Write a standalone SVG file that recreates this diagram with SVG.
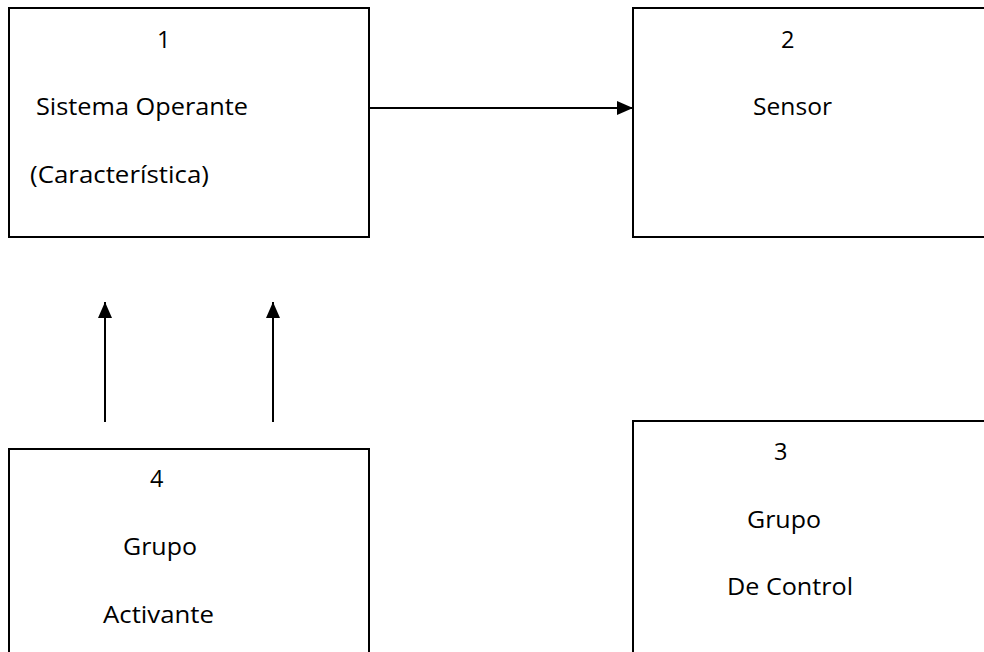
<svg xmlns="http://www.w3.org/2000/svg" width="984" height="652" viewBox="0 0 984 652">
<style>
.box{fill:#fff;stroke:#000;stroke-width:2}
.t{font-family:"Open Sans","Liberation Sans",sans-serif;font-size:23.5px;fill:#000}
.c{stroke:#000;stroke-width:2;fill:none}
</style>
<defs>
<marker id="ah" markerWidth="16" markerHeight="14" refX="16" refY="7" orient="auto" markerUnits="userSpaceOnUse">
<path d="M0,0 L16,7 L0,14 Z" fill="#000"/>
</marker>
</defs>
<rect width="984" height="652" fill="#fff"/>
<g id="node1">
<rect class="box" x="9" y="8" width="360" height="229"/>
<text class="t" x="157" y="48">1</text>
<text class="t" x="36" y="115" textLength="212" lengthAdjust="spacingAndGlyphs">Sistema Operante</text>
<text class="t" x="30" y="183" textLength="179" lengthAdjust="spacingAndGlyphs">(Característica)</text>
</g>
<g id="node2">
<rect class="box" x="633" y="8" width="360" height="229"/>
<text class="t" x="781" y="48">2</text>
<text class="t" x="753" y="115" textLength="79" lengthAdjust="spacingAndGlyphs">Sensor</text>
</g>
<g id="node4">
<rect class="box" x="9" y="449" width="360" height="220"/>
<text class="t" x="150" y="487">4</text>
<text class="t" x="123" y="555" textLength="74" lengthAdjust="spacingAndGlyphs">Grupo</text>
<text class="t" x="103" y="623" textLength="111" lengthAdjust="spacingAndGlyphs">Activante</text>
</g>
<g id="node3">
<rect class="box" x="633" y="421" width="360" height="250"/>
<text class="t" x="774" y="460">3</text>
<text class="t" x="747" y="528" textLength="74" lengthAdjust="spacingAndGlyphs">Grupo</text>
<text class="t" x="727" y="595" textLength="126" lengthAdjust="spacingAndGlyphs">De Control</text>
</g>
<g id="connectors">
<line class="c" x1="369" y1="108" x2="633" y2="108" marker-end="url(#ah)"/>
<line class="c" x1="105" y1="422" x2="105" y2="302" marker-end="url(#ah)"/>
<line class="c" x1="273" y1="422" x2="273" y2="302" marker-end="url(#ah)"/>
</g>
</svg>
